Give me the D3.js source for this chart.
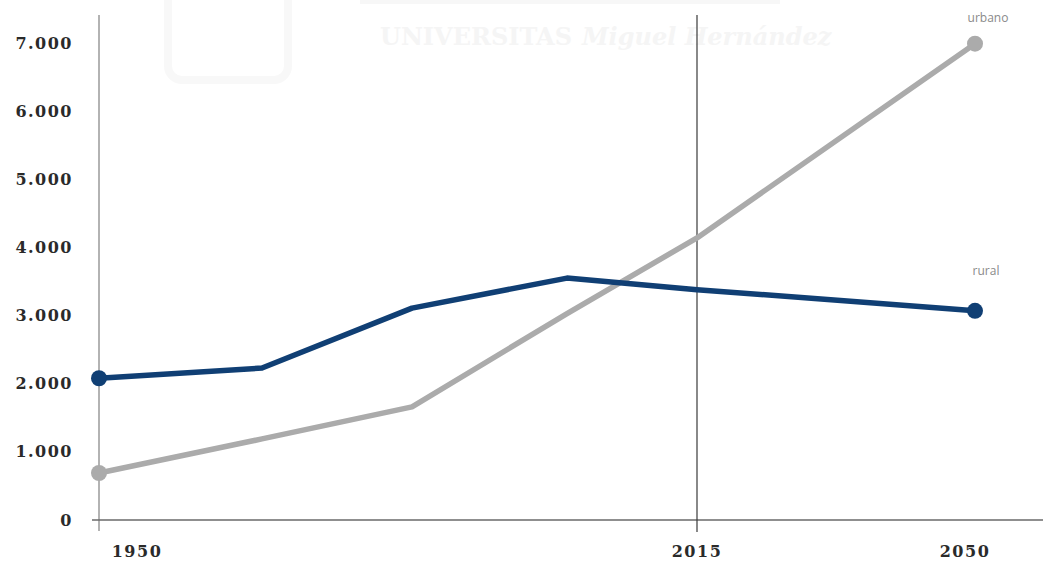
<!DOCTYPE html>
<html>
<head>
<meta charset="utf-8">
<script src="https://cdn.jsdelivr.net/npm/d3@7"></script>
<style>
  html, body { margin: 0; padding: 0; background: #ffffff; }
  svg { display: block; }
</style>
</head>
<body>
<svg id="chart" width="1043" height="563"></svg>
<script>
// ---- data ----
const years = [1950, 1970, 1990, 2010, 2015, 2050];
const rural = [2080, 2230, 3110, 3550, 3380, 3070];
const urban = [690, 1190, 1660, 3030, 4140, 6990];
const yTickValues = [0, 1000, 2000, 3000, 4000, 5000, 6000, 7000];
const xTickYears = [1950, 2015, 2050];
const markerYear = 2015;
const seriesNames = ["urbano", "rural"];

// ---- layout ----
const W = 1043, H = 563;
const svg = d3.select("#chart");

// schematic (non-uniform) time axis, as in the original graphic
const xPos = [99, 262, 412, 567, 697, 975];
const x = d3.scaleLinear().domain(years).range(xPos);
const y = d3.scaleLinear().domain([0, 7000]).range([520, 43]);

const loc = d3.formatLocale({decimal: ",", thousands: ".", grouping: [3], currency: ["", "€"]});
const fmt = loc.format(",");

// ---- very faint watermark ----
const wm = svg.append("g");
wm.append("rect").attr("x", 360).attr("y", -6).attr("width", 420).attr("height", 10).attr("fill", "#f7f7f7");
wm.append("rect").attr("x", 168).attr("y", -20).attr("width", 120).attr("height", 100).attr("rx", 14)
  .attr("fill", "none").attr("stroke", "#f8f8f8").attr("stroke-width", 8);
wm.append("text").attr("x", 380).attr("y", 45)
  .attr("font-family", "DejaVu Serif, serif").attr("font-weight", "bold").attr("font-size", 24)
  .attr("fill", "#f5f5f5")
  .text("UNIVERSITAS")
  .append("tspan").attr("font-style", "italic").attr("dx", 10).text("Miguel Hernández");

// ---- axes ----
svg.append("line").attr("x1", x(1950)).attr("x2", x(1950)).attr("y1", 15).attr("y2", 531)
  .attr("stroke", "#9a9a9a").attr("stroke-width", 1.5);
svg.append("line").attr("x1", x(1950) - 7).attr("x2", W).attr("y1", y(0)).attr("y2", y(0))
  .attr("stroke", "#6a6a6a").attr("stroke-width", 1.3);
svg.append("line").attr("x1", x(markerYear)).attr("x2", x(markerYear)).attr("y1", 15).attr("y2", 532)
  .attr("stroke", "#3a3a3a").attr("stroke-width", 1.2);

// y tick labels
svg.append("g").selectAll("text").data(yTickValues).join("text")
  .attr("x", 73).attr("y", d => y(d))
  .attr("dy", "0.35em")
  .attr("text-anchor", "end")
  .attr("font-family", "DejaVu Serif, serif").attr("font-weight", "bold").attr("font-size", 16)
  .attr("letter-spacing", 1.5)
  .attr("fill", "#2a2a2a")
  .text(d => fmt(d));

// x tick labels
const xLabelShift = {1950: 38, 2015: 0, 2050: -10};
svg.append("g").selectAll("text").data(xTickYears).join("text")
  .attr("x", d => x(d) + xLabelShift[d]).attr("y", 557)
  .attr("text-anchor", "middle")
  .attr("font-family", "DejaVu Serif, serif").attr("font-weight", "bold").attr("font-size", 16)
  .attr("letter-spacing", 1.5)
  .attr("fill", "#2a2a2a")
  .text(d => d);

// ---- lines ----
const line = d3.line().x((d, i) => x(years[i])).y(d => y(d));

svg.append("path").datum(urban).attr("d", line)
  .attr("fill", "none").attr("stroke", "#ababab").attr("stroke-width", 5.5).attr("stroke-linejoin", "round");
svg.append("path").datum(rural).attr("d", line)
  .attr("fill", "none").attr("stroke", "#103f74").attr("stroke-width", 5.5).attr("stroke-linejoin", "round");

// endpoint markers
const ends = [0, years.length - 1];
svg.append("g").selectAll("circle").data(ends).join("circle")
  .attr("cx", i => x(years[i])).attr("cy", i => y(urban[i])).attr("r", 8).attr("fill", "#ababab");
svg.append("g").selectAll("circle").data(ends).join("circle")
  .attr("cx", i => x(years[i])).attr("cy", i => y(rural[i])).attr("r", 8).attr("fill", "#103f74");

// series labels
const last = years.length - 1;
svg.append("text").attr("x", x(years[last]) + 13).attr("y", y(urban[last]) - 22)
  .attr("text-anchor", "middle")
  .attr("font-family", "Open Sans, sans-serif").attr("font-size", 12).attr("fill", "#8a8a8a")
  .text(seriesNames[0]);
svg.append("text").attr("x", x(years[last]) + 11).attr("y", y(rural[last]) - 36)
  .attr("text-anchor", "middle")
  .attr("font-family", "Open Sans, sans-serif").attr("font-size", 12).attr("fill", "#8a8a8a")
  .text(seriesNames[1]);
</script>
</body>
</html>
